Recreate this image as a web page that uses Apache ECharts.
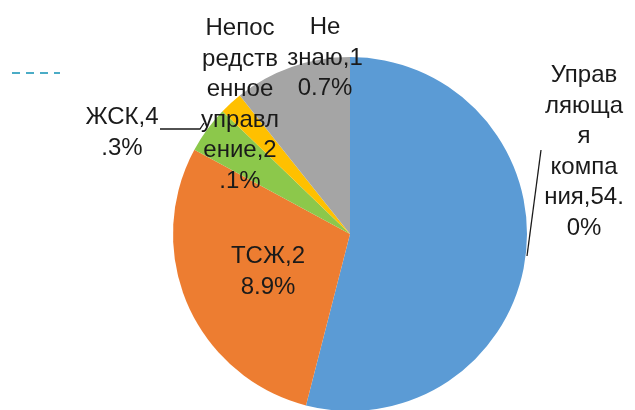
<!DOCTYPE html>
<html>
<head>
<meta charset="utf-8">
<script src="https://cdn.jsdelivr.net/npm/echarts@6/dist/echarts.min.js"></script>
<style>html,body{margin:0;padding:0;background:#fff}#c{width:635px;height:410px}</style>
</head>
<body>
<div id="c"></div>
<script>
var categories = ['Управляющая компания', 'ТСЖ', 'ЖСК', 'Непосредственное управление', 'Не знаю'];
var values = [54.0, 28.9, 4.3, 2.1, 10.7];
var labelTexts = [
  'Управ\nляюща\nя\nкомпа\nния,54.\n0%',
  'ТСЖ,2\n8.9%',
  'ЖСК,4\n.3%',
  'Непос\nредств\nенное\nуправл\nение,2\n.1%',
  'Не\nзнаю,1\n0.7%'
];
var colors = ['#5B9BD5', '#ED7D31', '#8CC84B', '#FFC000', '#A5A5A5'];

// label placement (centre of each text block) and leader lines
var labelPos = [
  {x: 584, y: 152, line: [[527, 256], [541, 150]]},
  {x: 268, y: 272},
  {x: 122, y: 133, line: [[204, 123], [200, 129], [160, 129]]},
  {x: 240, y: 105},
  {x: 325, y: 58}
];

var chart = echarts.init(document.getElementById('c'), null, {renderer: 'canvas'});
var data = categories.map(function (c, i) {
  var hasLine = !!labelPos[i].line;
  return {
    name: c,
    value: values[i],
    itemStyle: {color: colors[i]},
    label: {position: i === 1 ? 'inside' : 'outside', formatter: labelTexts[i]},
    labelLine: {show: hasLine}
  };
});

chart.setOption({
  animation: false,
  graphic: [{
    type: 'line',
    shape: {x1: 12, y1: 73, x2: 60, y2: 73},
    style: {stroke: '#4BACC6', lineWidth: 2, lineDash: [8, 6]}
  }],
  series: [{
    type: 'pie',
    center: [350, 234],
    radius: 177,
    startAngle: 90,
    clockwise: true,
    avoidLabelOverlap: false,
    itemStyle: {borderWidth: 0},
    label: {
      color: '#1a1a1a',
      fontSize: 24,
      lineHeight: 30.5,
      fontFamily: 'Arial',
      align: 'center'
    },
    labelLine: {lineStyle: {color: '#1a1a1a', width: 1.3}, length: 10, length2: 10},
    labelLayout: function (p) {
      var lp = labelPos[p.dataIndex];
      var o = {x: lp.x, y: lp.y, align: 'center', verticalAlign: 'middle'};
      if (lp.line) o.labelLinePoints = lp.line;
      return o;
    },
    data: data
  }]
});
</script>
</body>
</html>
